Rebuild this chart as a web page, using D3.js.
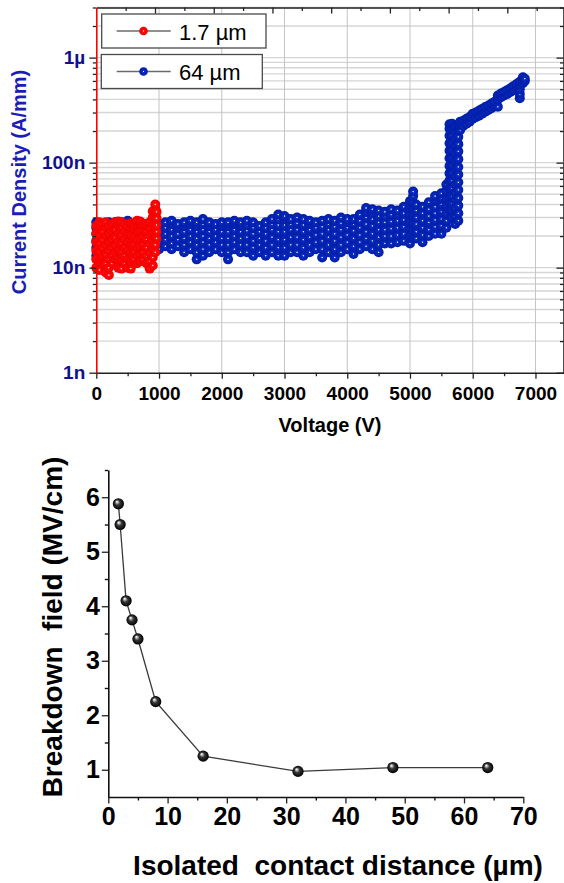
<!DOCTYPE html>
<html>
<head>
<meta charset="utf-8">
<script src="https://cdn.jsdelivr.net/npm/d3@7"></script>
<style>
  body { margin: 0; background: #fff; }
  svg { display: block; font-family: "Liberation Sans", Arial, sans-serif; }
</style>
</head>
<body>
<svg id="svg" width="564" height="883"></svg>
<script>
// ---- top panel: current density vs voltage (values in nA/mm) ----
const redV = [0, 50, 100, 150, 200, 250, 300, 350, 400, 450, 500, 550, 600, 650, 700, 750, 800, 850, 900, 940, 960];
const redI = [
  [10, 12, 14.5, 17.5, 21, 25],
  [9.5, 11.5, 14, 17, 20.5, 24.5, 27],
  [11, 13, 15.5, 18.5, 22, 26],
  [9, 11, 13.5, 16.5, 20, 24, 27],
  [8.5, 10, 12, 14.5, 17.5, 21, 25],
  [11, 13, 15.5, 18.5, 22, 26],
  [12, 14, 16.5, 19.5, 23, 27],
  [10, 12, 14.5, 17.5, 21, 25, 27.5],
  [9.8, 11.5, 14, 17, 20.5, 24, 27],
  [11, 13, 15.5, 18.5, 22, 26],
  [10, 12, 14.5, 17.5, 21, 25],
  [9.8, 11.5, 14, 17, 20.5, 24, 26.5],
  [12, 14, 16.5, 19.5, 23, 26],
  [11, 13, 15.5, 18.5, 22, 26, 28],
  [11.5, 13.5, 16, 19, 22.5, 26, 27.5],
  [12, 14, 16.5, 19.5, 23, 26],
  [11, 13, 15.5, 18.5, 22, 26],
  [9.8, 11.5, 14, 17, 20.5, 24, 27],
  [10.5, 12.5, 15, 18, 21.5, 25.5, 30, 34.5],
  [14, 16.5, 19.5, 23, 27, 31.5, 36, 40],
  [19, 22, 25.5, 29.5, 34]
];

const blueV = [
  0, 100, 200, 300, 400, 500, 600, 700, 800, 900,
  1000, 1100, 1200, 1300, 1400, 1500, 1600, 1700, 1800, 1900,
  2000, 2100, 2200, 2300, 2400, 2500, 2600, 2700, 2800, 2900,
  3000, 3100, 3200, 3300, 3400, 3500, 3600, 3700, 3800, 3900,
  4000, 4100, 4200, 4300, 4400, 4500, 4600, 4700, 4800, 4900,
  5000, 5050, 5100, 5200, 5300, 5400, 5500, 5580, 5630, 5670, 5720, 5770,
  5800, 5850, 5900, 5950, 6000, 6050, 6100, 6150, 6200, 6250, 6300, 6350,
  6400, 6450, 6500, 6550, 6600, 6650, 6700, 6750, 6800, 6830
];
const blueI = [
  [13, 15.5, 18, 21, 24, 27],
  [14, 16.5, 19, 22, 25],
  [13, 15, 18, 21, 24, 27],
  [14, 16, 19, 22, 25, 27],
  [13, 15.5, 18, 21, 24, 27],
  [14, 16.5, 19.5, 23, 26, 28],
  [13, 15, 18, 21, 24, 26],
  [14, 16, 19, 22, 25, 27],
  [13, 15.5, 18, 21, 24, 26],
  [14, 16.5, 19.5, 22.5, 25.5],
  [15, 17.5, 20, 23, 26],
  [16, 18.5, 21, 24, 27],
  [15, 17, 20, 23, 26, 28],
  [16, 18.5, 21, 24, 26],
  [14, 16.5, 19, 22, 25, 27],
  [15, 17.5, 20, 23, 26, 28],
  [12, 14, 16.5, 19, 22, 25, 27],
  [13, 15, 17.5, 20, 23, 26, 29],
  [14, 16.5, 19, 22, 25, 27],
  [15, 17.5, 20, 23, 26],
  [14, 16.5, 19, 22, 25, 27],
  [12, 14, 16.5, 19, 22, 25, 27],
  [15, 17.5, 20, 23, 26, 28],
  [14, 16.5, 19, 22, 25, 27],
  [14, 16.5, 19.5, 22.5, 25.5, 28],
  [13, 15.5, 18, 21, 24, 27],
  [14, 16.5, 19, 22, 25],
  [13, 15.5, 18, 21, 24, 27],
  [14, 16.5, 19.5, 23, 26, 29],
  [13, 15.5, 18.5, 22, 25.5, 29, 32],
  [13, 15.5, 18.5, 22, 25.5, 29, 31],
  [14, 16.5, 19.5, 23, 26, 29],
  [14, 16.5, 19.5, 23, 26.5, 30],
  [13, 15.5, 18.5, 22, 25.5, 29],
  [14, 16.5, 19.5, 23, 26, 28],
  [15, 17.5, 20.5, 24, 27],
  [12.5, 15, 18, 21, 24.5, 28],
  [14, 16.5, 19.5, 23, 26, 29],
  [12.5, 15, 18, 21, 24.5, 28],
  [14, 16.5, 19.5, 23, 26.5, 30],
  [15, 17.5, 20.5, 24, 27, 29],
  [13.5, 16, 19, 22.5, 26, 29],
  [15, 17.5, 20.5, 24, 28, 32],
  [16, 19, 22, 26, 30, 34, 37],
  [15, 18, 21, 25, 29, 33, 36],
  [14, 16.5, 19.5, 23, 27, 31, 35],
  [17, 20, 23, 27, 31, 34],
  [17, 20, 23.5, 27.5, 32, 36],
  [17.5, 20.5, 24, 28, 32, 35],
  [18, 21, 24.5, 28.5, 33, 38],
  [17, 20, 23.5, 27.5, 32, 37, 43],
  [19, 22.5, 26.5, 31, 36, 42, 48, 53],
  [19, 22, 26, 30, 35, 40],
  [17.5, 20.5, 24, 28, 33, 38],
  [20, 23, 27, 31, 36, 42],
  [21, 24.5, 28.5, 33, 38, 44, 48],
  [21, 25, 29, 34, 40, 46, 51],
  [24, 28, 33, 39, 46, 54, 62],
  [35, 41, 48, 57, 67, 79, 93, 110, 130, 153, 180, 210, 232],
  [30, 35, 41, 48, 57, 67, 79, 93, 110, 130, 153, 180, 212, 235],
  [26, 31, 37, 44, 52, 62, 74, 88, 104, 123, 145, 170, 200, 225],
  [28, 33, 39, 46, 55, 65, 77, 91, 108, 128, 150, 176, 205, 230],
  [205, 228, 245],
  [225, 250],
  [235, 262],
  [245, 272],
  [262, 292],
  [270, 300],
  [280, 312],
  [292, 325],
  [305, 338],
  [318, 350],
  [330, 365],
  [345, 380],
  [340, 400, 435],
  [420, 455],
  [435, 470],
  [450, 490],
  [470, 510],
  [490, 535],
  [510, 560],
  [410, 450, 500, 550, 590],
  [570, 615, 650],
  [600, 630]
];

const legendNames = ["1.7 µm", "64 µm"];
const decadeLabels = ["1n", "10n", "100n", "1µ"];
const decades = [1e-9, 1e-8, 1e-7, 1e-6];
const voltTicks = [0, 1000, 2000, 3000, 4000, 5000, 6000, 7000];

// ---- bottom panel: breakdown field vs isolated contact distance ----
const distance = [1.7, 2, 3, 4, 5, 8, 16, 32, 48, 64];
const field = [5.88, 5.5, 4.1, 3.75, 3.4, 2.25, 1.25, 0.97, 1.04, 1.04];
const distTicks = [0, 10, 20, 30, 40, 50, 60, 70];
const fieldTicks = [1, 2, 3, 4, 5, 6];

const svg = d3.select("#svg");
const defs = svg.append("defs");

function ball(id, stops, fx, fy) {
  const g = defs.append("radialGradient").attr("id", id)
    .attr("cx", "50%").attr("cy", "50%").attr("r", "50%")
    .attr("fx", fx).attr("fy", fy);
  stops.forEach(([o, c]) => g.append("stop").attr("offset", o).attr("stop-color", c));
}
ball("gBlue", [[0, "#ffffff"], [0.07, "#c8d0ff"], [0.22, "#0a2cbe"], [1, "#001ca8"]], "50%", "50%");
ball("gRed", [[0, "#ffffff"], [0.07, "#ffd0d0"], [0.22, "#ff0c0c"], [1, "#f00000"]], "50%", "50%");
ball("gBlack", [[0, "#ffffff"], [0.14, "#d0d0d0"], [0.45, "#383838"], [1, "#000000"]], "35%", "30%");

// ================= top panel =================
const x1 = d3.scaleLinear().domain([0, 7450]).range([96.3, 563.7]);
const y1 = d3.scaleLog().domain([1e-9, 3e-6]).range([372.7, 7.5]);
const xTop = d3.scaleLinear().domain([0, 7.96]).range([96.3, 563.7]);

let minorY = [];
decades.forEach(d => {
  for (let k = 2; k <= 9; k++) {
    if (k * d <= 3.0001e-6) minorY.push(k * d);
  }
});

const gTop = svg.append("g");

// grid
gTop.append("g").selectAll("line")
  .data(minorY.concat(decades.slice(1)))
  .join("line")
  .attr("x1", x1.range()[0]).attr("x2", x1.range()[1])
  .attr("y1", d => y1(d)).attr("y2", d => y1(d))
  .attr("stroke", "#d6d6d6").attr("stroke-width", 1.4);
gTop.append("g").selectAll("line")
  .data(voltTicks.slice(1))
  .join("line")
  .attr("x1", d => x1(d)).attr("x2", d => x1(d))
  .attr("y1", y1.range()[0]).attr("y2", y1.range()[1])
  .attr("stroke", "#c4c4c4").attr("stroke-width", 1);

// data
const bluePts = blueV.flatMap((v, i) => blueI[i].map(c => [v, c * 1e-9]));
const redPts = redV.flatMap((v, i) => redI[i].map(c => [v, c * 1e-9]));

gTop.append("g").selectAll("circle")
  .data(bluePts)
  .join("circle")
  .attr("cx", d => x1(d[0])).attr("cy", d => y1(d[1]))
  .attr("r", 5).attr("fill", "url(#gBlue)");
gTop.append("g").selectAll("circle")
  .data(redPts)
  .join("circle")
  .attr("cx", d => x1(d[0])).attr("cy", d => y1(d[1]))
  .attr("r", 5).attr("fill", "url(#gRed)");

// legend (two separate boxes)
const legBoxes = [
  { x: 101.7, y: 14, w: 164.3, h: 34, fill: "url(#gRed)" },
  { x: 101.3, y: 54.5, w: 161, h: 34, fill: "url(#gBlue)" }
];
const leg = gTop.append("g").selectAll("g")
  .data(legBoxes)
  .join("g");
leg.append("rect")
  .attr("x", d => d.x).attr("y", d => d.y)
  .attr("width", d => d.w).attr("height", d => d.h)
  .attr("fill", "#fff").attr("stroke", "#4a4a4a").attr("stroke-width", 1.3);
leg.append("line")
  .attr("x1", 116.7).attr("x2", 170.7)
  .attr("y1", d => d.y + d.h / 2).attr("y2", d => d.y + d.h / 2)
  .attr("stroke", "#6a6a6a").attr("stroke-width", 1.3);
leg.append("circle")
  .attr("cx", 143.5).attr("cy", d => d.y + d.h / 2)
  .attr("r", 4.3).attr("fill", d => d.fill);
leg.append("text")
  .attr("x", 179).attr("y", d => d.y + d.h / 2 + 8.5)
  .attr("font-size", 22).attr("fill", "#000")
  .text((d, i) => legendNames[i]);

// axes
function styleAxis(g, size, weight, color) {
  g.attr("font-family", null).attr("font-size", size);
  g.selectAll("text").attr("font-weight", weight).attr("fill", color);
  g.selectAll("line").attr("stroke", "#222").attr("stroke-width", 1.3);
}

const xMinor = d3.range(500, 7500, 1000);
gTop.append("g").attr("transform", "translate(0,372.7)")
  .call(d3.axisBottom(x1).tickValues(xMinor).tickSize(3.5).tickSizeOuter(0).tickFormat(""))
  .call(g => { g.select(".domain").remove(); g.selectAll("line").attr("stroke", "#222").attr("stroke-width", 1.3); });
gTop.append("g").attr("transform", "translate(0,372.7)")
  .call(d3.axisBottom(x1).tickValues(voltTicks).tickSize(6).tickSizeOuter(0).tickPadding(8).tickFormat(d3.format("d")))
  .call(g => styleAxis(g, 19, "bold", "#000"))
  .call(g => g.select(".domain").attr("stroke", "#222").attr("stroke-width", 1.6));

gTop.append("g").attr("transform", "translate(0,7.5)")
  .call(d3.axisTop(xTop).tickValues(d3.range(0.5, 8, 1)).tickSize(-3.5).tickSizeOuter(0).tickFormat(""))
  .call(g => { g.select(".domain").remove(); g.selectAll("line").attr("stroke", "#222").attr("stroke-width", 1.3); });
gTop.append("g").attr("transform", "translate(0,7.5)")
  .call(d3.axisTop(xTop).tickValues(d3.range(1, 8, 1)).tickSize(-6).tickSizeOuter(0).tickFormat(""))
  .call(g => { g.selectAll("line").attr("stroke", "#222").attr("stroke-width", 1.3); g.select(".domain").attr("stroke", "#222").attr("stroke-width", 1.6); });

gTop.append("g").attr("transform", "translate(96.3,0)")
  .call(d3.axisLeft(y1).tickValues(minorY).tickSize(3.5).tickSizeOuter(0).tickFormat(""))
  .call(g => { g.select(".domain").remove(); g.selectAll("line").attr("stroke", "#222").attr("stroke-width", 1.3); });
gTop.append("g").attr("transform", "translate(96.3,0)")
  .call(d3.axisLeft(y1).tickValues(decades).tickSize(7).tickSizeOuter(0).tickPadding(4)
    .tickFormat((d, i) => decadeLabels[i]))
  .call(g => styleAxis(g, 19, "bold", "#10108c"))
  .call(g => g.select(".domain").attr("stroke", "#ff0000").attr("stroke-width", 1.6));

gTop.append("g").attr("transform", "translate(563.5,0)")
  .call(d3.axisRight(y1).tickValues(minorY).tickSize(-3.5).tickSizeOuter(0).tickFormat(""))
  .call(g => { g.select(".domain").remove(); g.selectAll("line").attr("stroke", "#222").attr("stroke-width", 1.3); });
gTop.append("g").attr("transform", "translate(563.5,0)")
  .call(d3.axisRight(y1).tickValues(decades).tickSize(-7).tickSizeOuter(0).tickFormat(""))
  .call(g => { g.selectAll("line").attr("stroke", "#222").attr("stroke-width", 1.3); g.select(".domain").attr("stroke", "#222").attr("stroke-width", 1.6); });

gTop.append("text")
  .attr("transform", "translate(26,182) rotate(-90)")
  .attr("text-anchor", "middle").attr("font-size", 20).attr("font-weight", "bold")
  .attr("fill", "#1c1cb8")
  .text("Current Density (A/mm)");
gTop.append("text")
  .attr("x", 330).attr("y", 432)
  .attr("text-anchor", "middle").attr("font-size", 20).attr("font-weight", "bold")
  .attr("fill", "#000")
  .text("Voltage (V)");

// ================= bottom panel =================
const x2 = d3.scaleLinear().domain([0, 70]).range([108.3, 523.3]);
const y2 = d3.scaleLinear().domain([0.5, 6.5]).range([797, 470]);
const gBot = svg.append("g");

gBot.append("g").attr("transform", "translate(0,797)")
  .call(d3.axisBottom(x2).tickValues(d3.range(5, 70, 10)).tickSize(3.5).tickSizeOuter(0).tickFormat(""))
  .call(g => { g.select(".domain").remove(); g.selectAll("line").attr("stroke", "#111").attr("stroke-width", 1.4); });
gBot.append("g").attr("transform", "translate(0,797)")
  .call(d3.axisBottom(x2).tickValues(distTicks).tickSize(6.5).tickSizeOuter(0).tickPadding(4).tickFormat(d3.format("d")))
  .call(g => styleAxis(g, 25, "bold", "#000"))
  .call(g => g.select(".domain").attr("stroke", "#111").attr("stroke-width", 1.6));

gBot.append("g").attr("transform", "translate(108.3,0)")
  .call(d3.axisLeft(y2).tickValues(d3.range(1.5, 7, 1)).tickSize(3.5).tickSizeOuter(0).tickFormat(""))
  .call(g => { g.select(".domain").remove(); g.selectAll("line").attr("stroke", "#111").attr("stroke-width", 1.4); });
gBot.append("g").attr("transform", "translate(108.3,0)")
  .call(d3.axisLeft(y2).tickValues(fieldTicks).tickSize(6.5).tickSizeOuter(0).tickPadding(2).tickFormat(d3.format("d")))
  .call(g => styleAxis(g, 25, "bold", "#000"))
  .call(g => g.select(".domain").attr("stroke", "#111").attr("stroke-width", 1.6));

const pts2 = distance.map((d, i) => [d, field[i]]);
gBot.append("path")
  .datum(pts2)
  .attr("d", d3.line().x(d => x2(d[0])).y(d => y2(d[1])))
  .attr("fill", "none").attr("stroke", "#3a3a3a").attr("stroke-width", 1.3);
gBot.append("g").selectAll("circle")
  .data(pts2)
  .join("circle")
  .attr("cx", d => x2(d[0])).attr("cy", d => y2(d[1]))
  .attr("r", 5.6).attr("fill", "url(#gBlack)");

gBot.append("text")
  .attr("transform", "translate(62,627) rotate(-90)")
  .attr("text-anchor", "middle").attr("font-size", 28).attr("font-weight", "bold")
  .style("white-space", "pre")
  .text("Breakdown  field (MV/cm)");
gBot.append("text")
  .attr("x", 338).attr("y", 875)
  .attr("text-anchor", "middle").attr("font-size", 28).attr("font-weight", "bold")
  .style("white-space", "pre")
  .text("Isolated  contact distance (µm)");
</script>
</body>
</html>
